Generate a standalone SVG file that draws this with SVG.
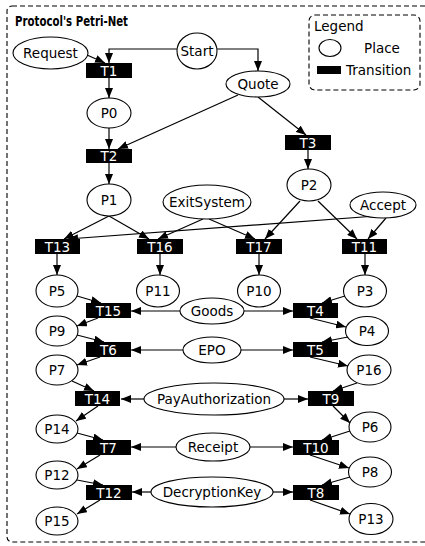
<svg xmlns="http://www.w3.org/2000/svg" width="425" height="546" viewBox="0 0 425 546">
<defs>
<marker id="arr" markerUnits="userSpaceOnUse" markerWidth="10" markerHeight="8" refX="10" refY="4" orient="auto"><path d="M0,0 L10,4 L0,8 z" fill="#000"/></marker>
<style>
.pl{fill:#fff;stroke:#000;stroke-width:1.1}
.tr{fill:#000}
.t{font-family:"DejaVu Sans",Verdana,sans-serif;font-size:13.5px;fill:#000;text-anchor:middle}
.tw{font-family:"DejaVu Sans",Verdana,sans-serif;font-size:13.5px;fill:#fff;text-anchor:middle}
.e{fill:none;stroke:#000;stroke-width:1.2;marker-end:url(#arr)}
.box{fill:none;stroke:#000;stroke-width:1.1;stroke-dasharray:5,3}
</style>
</defs>
<rect width="425" height="546" fill="#fff"/>
<rect class="box" x="7" y="6" width="430" height="536" rx="5"/>
<text x="15" y="26" font-family="DejaVu Sans Condensed, DejaVu Sans, sans-serif" font-weight="bold" font-size="13.5" textLength="113" lengthAdjust="spacingAndGlyphs">Protocol's Petri-Net</text>
<g id="legend">
<rect class="box" x="309" y="15" width="111" height="75" rx="6"/>
<text x="314" y="31" font-family="DejaVu Sans, sans-serif" font-size="13.5">Legend</text>
<ellipse class="pl" cx="330" cy="48" rx="11" ry="8.5"/>
<text x="364" y="53" font-family="DejaVu Sans, sans-serif" font-size="13.5">Place</text>
<rect x="317" y="66" width="24" height="8" fill="#000"/>
<text x="346" y="75" font-family="DejaVu Sans, sans-serif" font-size="13.5">Transition</text>
</g>
<g id="connectors">
<path class="e" d="M87,55 L105,63"/>
<path class="e" d="M177,49 L109,49 L109,63"/>
<path class="e" d="M217,49 L258,49 L258,71"/>
<path class="e" d="M109,78 L109,98"/>
<path class="e" d="M109,128 L109,149"/>
<path class="e" d="M238,95 L118,149"/>
<path class="e" d="M258,97 L306,135"/>
<path class="e" d="M109,163 L109,184"/>
<path class="e" d="M308,150 L308,169"/>
<path class="e" d="M109,216 L64,239"/>
<path class="e" d="M109,216 L149,239"/>
<path class="e" d="M203,219 L158,239"/>
<path class="e" d="M209,219 L255,239"/>
<path class="e" d="M376,216 L68,239"/>
<path class="e" d="M300,201 L265,239"/>
<path class="e" d="M318,201 L357,239"/>
<path class="e" d="M386,218 L368,239"/>
<path class="e" d="M57,254 L57,275"/>
<path class="e" d="M160,254 L160,275"/>
<path class="e" d="M259,254 L259,275"/>
<path class="e" d="M365,254 L365,275"/>
<path class="e" d="M77,296 L101,303"/>
<path class="e" d="M180,311 L131,311"/>
<path class="e" d="M244,311 L293,311"/>
<path class="e" d="M345,296 L322,303"/>
<path class="e" d="M98,318 L77,326"/>
<path class="e" d="M310,318 L346,327"/>
<path class="e" d="M77,335 L104,342"/>
<path class="e" d="M183,350 L131,350"/>
<path class="e" d="M241,350 L293,350"/>
<path class="e" d="M348,337 L322,342"/>
<path class="e" d="M100,357 L77,365"/>
<path class="e" d="M310,357 L348,366"/>
<path class="e" d="M72,381 L94,391"/>
<path class="e" d="M144,399 L121,399"/>
<path class="e" d="M284,399 L308,399"/>
<path class="e" d="M357,383 L333,391"/>
<path class="e" d="M98,406 L76,421"/>
<path class="e" d="M333,406 L350,423"/>
<path class="e" d="M77,433 L103,440"/>
<path class="e" d="M176,447 L131,447"/>
<path class="e" d="M250,447 L293,447"/>
<path class="e" d="M350,431 L322,440"/>
<path class="e" d="M100,455 L77,469"/>
<path class="e" d="M310,455 L349,468"/>
<path class="e" d="M77,480 L103,485"/>
<path class="e" d="M151,492 L132,492"/>
<path class="e" d="M273,492 L293,492"/>
<path class="e" d="M350,477 L322,485"/>
<path class="e" d="M100,500 L77,514"/>
<path class="e" d="M310,500 L350,514"/>
</g>
<g id="Request"><ellipse class="pl" cx="50.5" cy="53" rx="37.5" ry="16"/><text class="t" x="50.5" y="58">Request</text></g>
<g id="Start"><ellipse class="pl" cx="197" cy="51" rx="20" ry="18"/><text class="t" x="197" y="56">Start</text></g>
<g id="Quote"><ellipse class="pl" cx="258" cy="84" rx="32" ry="13"/><text class="t" x="258" y="89">Quote</text></g>
<g id="P0"><ellipse class="pl" cx="109" cy="113" rx="22" ry="15"/><text class="t" x="109" y="118">P0</text></g>
<g id="P1"><ellipse class="pl" cx="109" cy="200" rx="22" ry="16"/><text class="t" x="109" y="205">P1</text></g>
<g id="P2"><ellipse class="pl" cx="309" cy="185" rx="22" ry="16"/><text class="t" x="309" y="190">P2</text></g>
<g id="ExitSystem"><ellipse class="pl" cx="207" cy="202" rx="44" ry="17"/><text class="t" x="207" y="207">ExitSystem</text></g>
<g id="Accept"><ellipse class="pl" cx="383" cy="205" rx="33" ry="13"/><text class="t" x="383" y="210">Accept</text></g>
<g id="P5"><ellipse class="pl" cx="57" cy="291" rx="21" ry="16"/><text class="t" x="57" y="296">P5</text></g>
<g id="P11"><ellipse class="pl" cx="158" cy="291" rx="21.5" ry="16"/><text class="t" x="158" y="296">P11</text></g>
<g id="P10"><ellipse class="pl" cx="259" cy="291" rx="21.5" ry="16"/><text class="t" x="259" y="296">P10</text></g>
<g id="P3"><ellipse class="pl" cx="365" cy="291" rx="21.5" ry="16"/><text class="t" x="365" y="296">P3</text></g>
<g id="Goods"><ellipse class="pl" cx="212" cy="311" rx="32" ry="13"/><text class="t" x="212" y="316">Goods</text></g>
<g id="P9"><ellipse class="pl" cx="57" cy="331" rx="21" ry="15"/><text class="t" x="57" y="336">P9</text></g>
<g id="P4"><ellipse class="pl" cx="367" cy="331" rx="21.5" ry="14.5"/><text class="t" x="367" y="336">P4</text></g>
<g id="EPO"><ellipse class="pl" cx="212" cy="350" rx="29" ry="13"/><text class="t" x="212" y="355">EPO</text></g>
<g id="P7"><ellipse class="pl" cx="57" cy="370" rx="21" ry="15"/><text class="t" x="57" y="375">P7</text></g>
<g id="P16"><ellipse class="pl" cx="369" cy="370" rx="22" ry="15"/><text class="t" x="369" y="375">P16</text></g>
<g id="PayAuthorization"><ellipse class="pl" cx="214" cy="399" rx="70" ry="16"/><text class="t" x="214" y="404">PayAuthorization</text></g>
<g id="P14"><ellipse class="pl" cx="57" cy="429" rx="21" ry="14"/><text class="t" x="57" y="434">P14</text></g>
<g id="P6"><ellipse class="pl" cx="370" cy="427" rx="21" ry="15"/><text class="t" x="370" y="432">P6</text></g>
<g id="Receipt"><ellipse class="pl" cx="213" cy="447" rx="37" ry="14"/><text class="t" x="213" y="452">Receipt</text></g>
<g id="P12"><ellipse class="pl" cx="57" cy="475" rx="21" ry="14"/><text class="t" x="57" y="480">P12</text></g>
<g id="P8"><ellipse class="pl" cx="370" cy="472" rx="21.5" ry="15"/><text class="t" x="370" y="477">P8</text></g>
<g id="DecryptionKey"><ellipse class="pl" cx="212" cy="492" rx="61" ry="15"/><text class="t" x="212" y="497">DecryptionKey</text></g>
<g id="P15"><ellipse class="pl" cx="57" cy="521" rx="21" ry="14"/><text class="t" x="57" y="526">P15</text></g>
<g id="P13"><ellipse class="pl" cx="371" cy="519" rx="22" ry="15.5"/><text class="t" x="371" y="524">P13</text></g>
<g id="T1"><rect class="tr" x="86" y="63" width="46" height="15"/><text class="tw" x="109" y="75.5">T1</text></g>
<g id="T2"><rect class="tr" x="86" y="149" width="46" height="14"/><text class="tw" x="109" y="161">T2</text></g>
<g id="T3"><rect class="tr" x="285" y="135" width="46" height="15"/><text class="tw" x="308" y="147.5">T3</text></g>
<g id="T13"><rect class="tr" x="35" y="239" width="45" height="15"/><text class="tw" x="57.5" y="251.5">T13</text></g>
<g id="T16"><rect class="tr" x="137" y="239" width="46" height="15"/><text class="tw" x="160" y="251.5">T16</text></g>
<g id="T17"><rect class="tr" x="236" y="239" width="46" height="15"/><text class="tw" x="259" y="251.5">T17</text></g>
<g id="T11"><rect class="tr" x="342" y="239" width="45" height="15"/><text class="tw" x="364.5" y="251.5">T11</text></g>
<g id="T15"><rect class="tr" x="86" y="303" width="45" height="15"/><text class="tw" x="108.5" y="315.5">T15</text></g>
<g id="T4"><rect class="tr" x="293" y="303" width="45" height="15"/><text class="tw" x="315.5" y="315.5">T4</text></g>
<g id="T6"><rect class="tr" x="86" y="342" width="45" height="15"/><text class="tw" x="108.5" y="354.5">T6</text></g>
<g id="T5"><rect class="tr" x="293" y="342" width="45" height="15"/><text class="tw" x="315.5" y="354.5">T5</text></g>
<g id="T14"><rect class="tr" x="75" y="391" width="45" height="15"/><text class="tw" x="97.5" y="403.5">T14</text></g>
<g id="T9"><rect class="tr" x="308" y="391" width="46" height="15"/><text class="tw" x="331" y="403.5">T9</text></g>
<g id="T7"><rect class="tr" x="86" y="440" width="45" height="15"/><text class="tw" x="108.5" y="452.5">T7</text></g>
<g id="T10"><rect class="tr" x="293" y="440" width="46" height="15"/><text class="tw" x="316" y="452.5">T10</text></g>
<g id="T12"><rect class="tr" x="86" y="485" width="46" height="15"/><text class="tw" x="109" y="497.5">T12</text></g>
<g id="T8"><rect class="tr" x="293" y="485" width="46" height="15"/><text class="tw" x="316" y="497.5">T8</text></g>
</svg>
